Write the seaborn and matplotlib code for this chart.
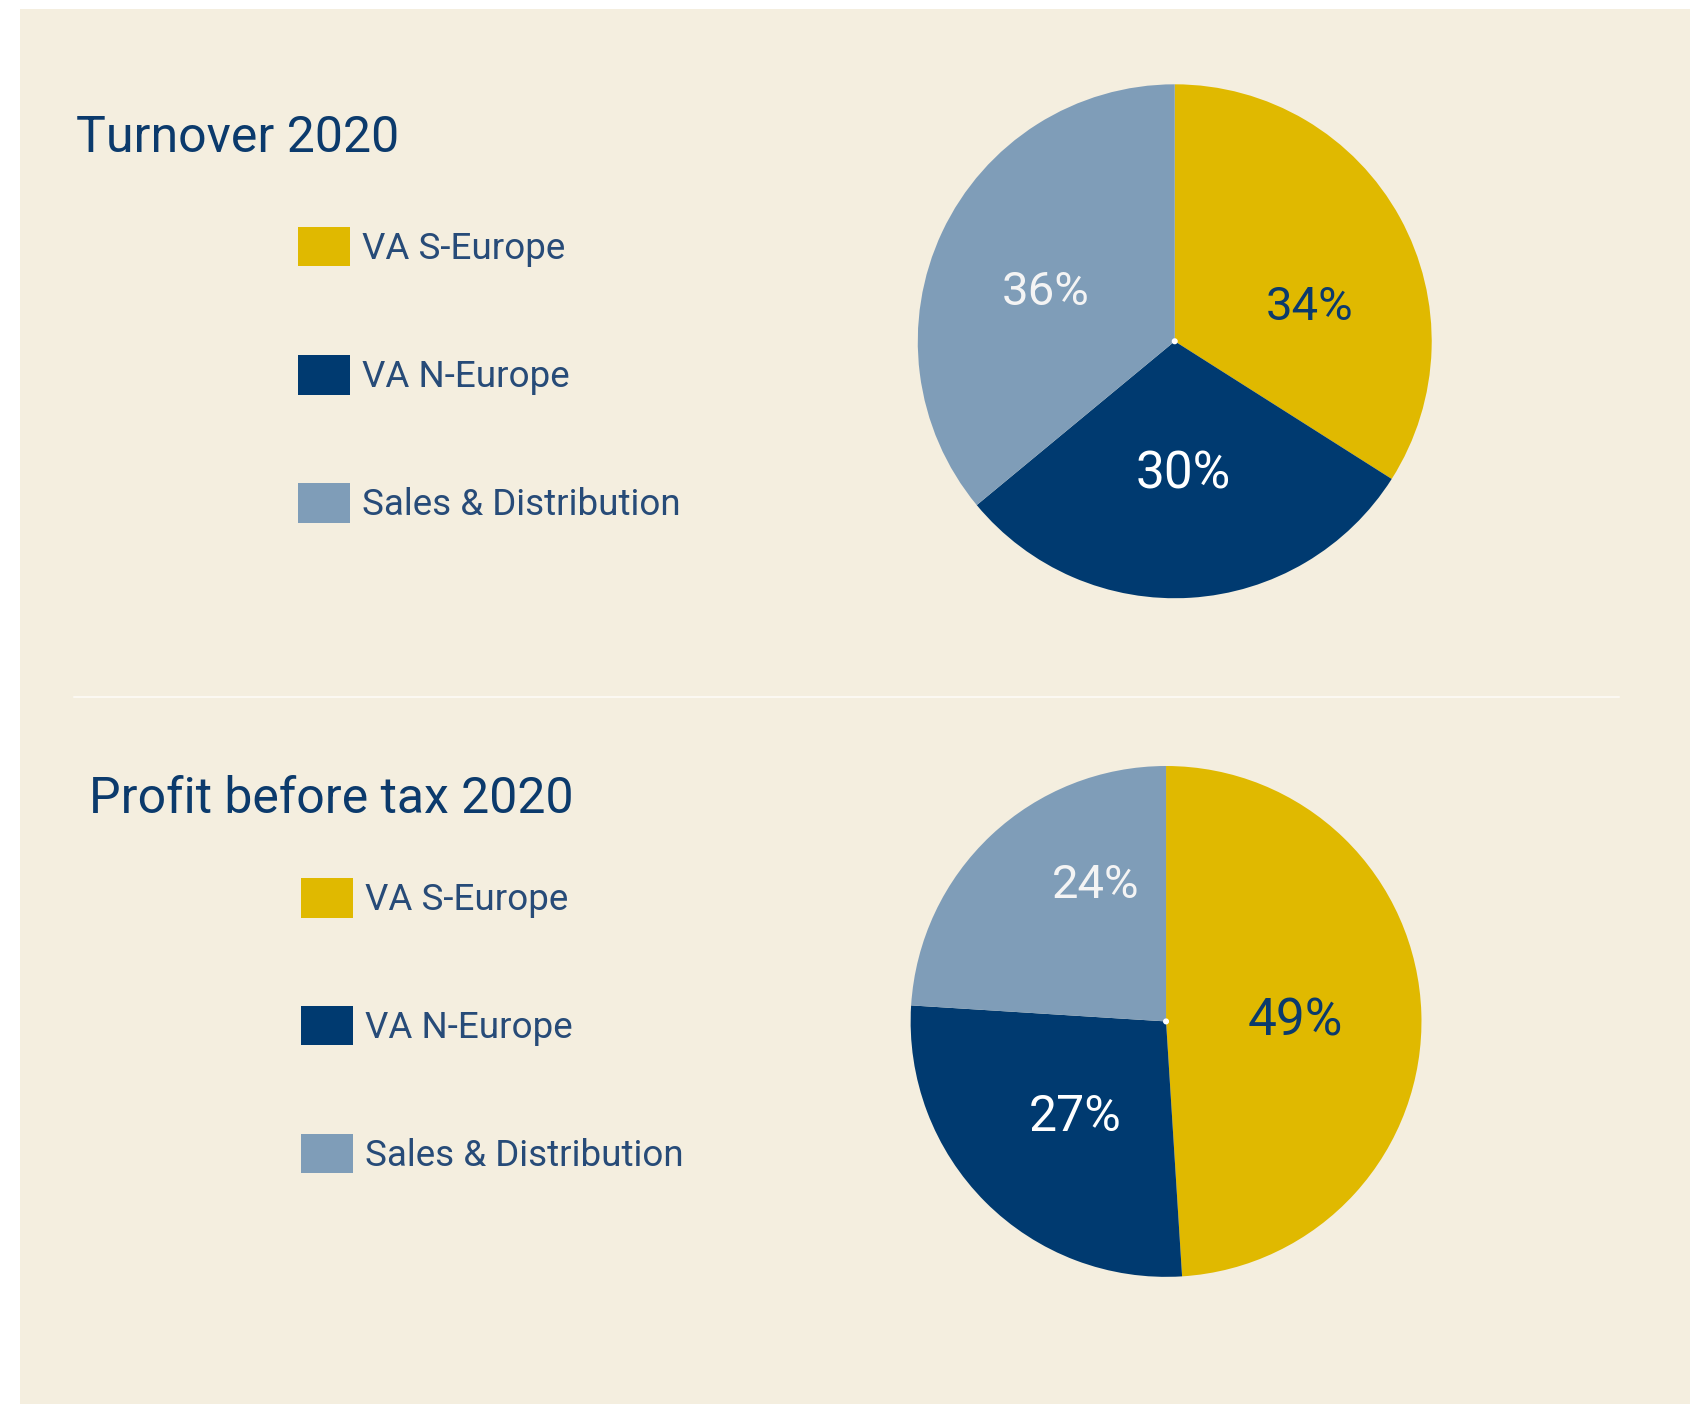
import matplotlib
matplotlib.use("Agg")
import numpy as np
import matplotlib.pyplot as plt
import seaborn as sns
from matplotlib.patches import Patch, Rectangle, Circle
from matplotlib.lines import Line2D

# Data
segments = ["VA S-Europe", "VA N-Europe", "Sales & Distribution"]
turnover_pct = [34, 30, 36]
profit_pct = [49, 27, 24]
titles = ["Turnover 2020", "Profit before tax 2020"]

sns.set_theme(style="white")
plt.rcParams["font.family"] = ["Roboto", "DejaVu Sans"]

colors = ["#E0B900", "#003A70", "#7F9DB8"]
bg = "#F4EEDF"
navy = "#0B3A6C"
legend_text = "#274B78"

# label placement (angle in degrees, distance in radius units) and looks
label_pos = [[(14.4, 0.541), (-86.3, 0.521), (159.3, 0.538)],
             [(0.0, 0.506), (-133.7, 0.517), (117.5, 0.600)]]
label_colors = [navy, "white", "#F4F4F4"]
label_sizes = [[34, 37, 34], [37, 36, 34]]

fig = plt.figure(figsize=(17.04, 14.05), dpi=100, facecolor="white")
fig.add_artist(Rectangle((0.0115, 0.0007), 0.9803, 0.9931, transform=fig.transFigure,
                         facecolor=bg, edgecolor="none", zorder=0))

# separator line
fig.add_artist(Line2D([0.0434, 0.950], [0.5042, 0.5042], transform=fig.transFigure,
                      color="#FBF8F2", lw=1.5))

pie_boxes = [[0.5386, 0.5742, 0.3016, 0.3658],
             [0.5344, 0.0912, 0.2998, 0.3636]]
title_xy = [(0.0446, 0.8918), (0.0522, 0.4214)]
legend_xy = [(0.1748, 0.8386), (0.1766, 0.3751)]
legend_gap = [2.39, 2.38]

for i, vals in enumerate([turnover_pct, profit_pct]):
    ax = fig.add_axes(pie_boxes[i])
    wedges, texts, autotexts = ax.pie(
        vals, colors=colors, startangle=90, counterclock=False,
        wedgeprops=dict(linewidth=0), autopct=lambda p: f"{p:.0f}%",
        pctdistance=0.52)
    for j, t in enumerate(autotexts):
        ang, dist = label_pos[i][j]
        t.set_position((dist * np.cos(np.radians(ang)), dist * np.sin(np.radians(ang))))
        t.set_color(label_colors[j])
        t.set_fontsize(label_sizes[i][j])
        t.set_ha("center")
        t.set_va("center")
    ax.add_patch(Circle(wedges[0].center, 0.009, color="white", zorder=5))
    ax.set_xlim(-1, 1)
    ax.set_ylim(-1, 1)
    ax.axis("off")

    fig.text(title_xy[i][0], title_xy[i][1], titles[i], fontsize=36,
             color=navy, va="baseline", ha="left")

    handles = [Patch(facecolor=c, edgecolor="none") for c in colors]
    fig.legend(handles, segments, loc="upper left", bbox_to_anchor=legend_xy[i],
               bbox_transform=fig.transFigure, frameon=False, fontsize=26.5,
               labelcolor=legend_text, handlelength=1.41, handleheight=1.28,
               handletextpad=0.33, labelspacing=legend_gap[i], borderpad=0, borderaxespad=0)

fig.savefig("out.png", dpi=100, facecolor=fig.get_facecolor())
